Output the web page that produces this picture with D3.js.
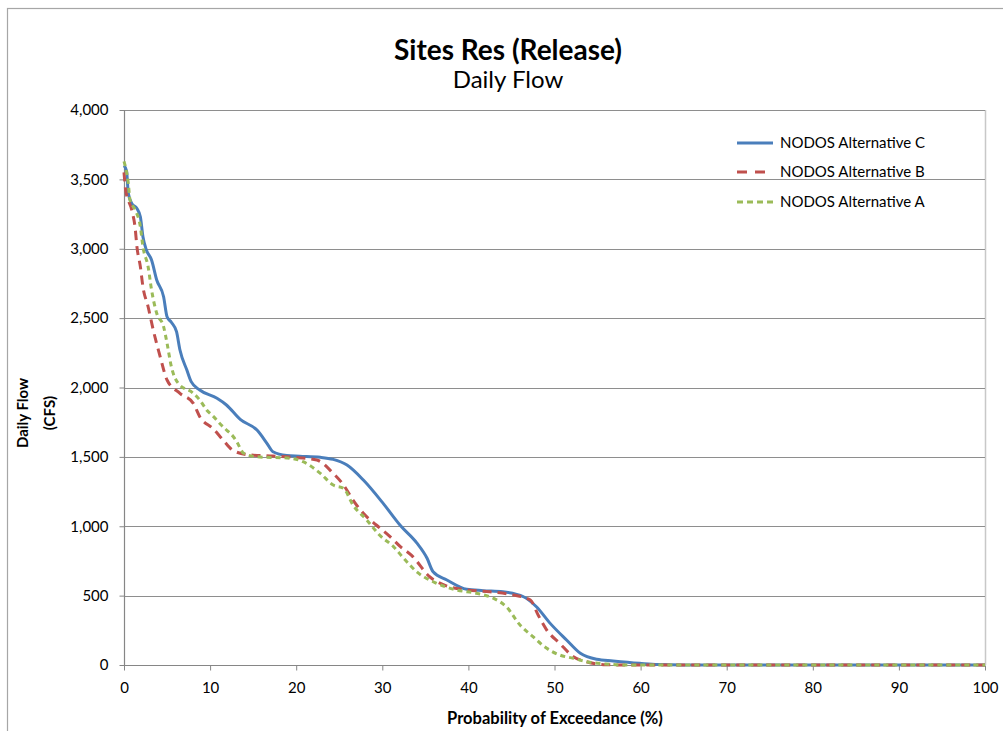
<!DOCTYPE html>
<html>
<head>
<meta charset="utf-8">
<script src="https://cdn.jsdelivr.net/npm/d3@7"></script>
<style>
  html, body { margin: 0; padding: 0; background: #fff; }
  svg { display: block; }
  text { font-family: Lato, "Open Sans", "Liberation Sans", sans-serif; fill: #000; }
</style>
</head>
<body>
<svg id="chart" width="1003" height="731"></svg>
<script>
// ---- Data ----
const xTicks = [0, 10, 20, 30, 40, 50, 60, 70, 80, 90, 100];
const yTicks = [0, 500, 1000, 1500, 2000, 2500, 3000, 3500, 4000];

const seriesNames = ["NODOS Alternative C", "NODOS Alternative B", "NODOS Alternative A"];

const altC_pct = [0,0.3,0.5,0.9,1.5,1.9,2.2,2.6,3.2,3.8,4.6,5.0,5.5,6.1,6.5,7.3,7.8,8.8,10.8,11.9,13.5,15.5,16.6,17.3,18.9,20.4,22.8,24.3,25.9,27.8,30.1,32.1,34.0,35.2,35.9,37.5,39.8,41.7,44.0,46.4,47.9,49.5,51.4,53.0,54.9,56.8,59.9,62,65,100];
const altC_flow = [3600,3560,3400,3327,3290,3231,3087,2991,2919,2775,2654,2510,2470,2402,2270,2126,2042,1982,1922,1874,1770,1690,1598,1537,1510,1505,1497,1482,1441,1333,1165,1005,880,769,672,613,546,536,528,492,420,300,180,84,41,29,12,3,0,0];

const altB_pct = [0,0.2,0.9,1.3,1.5,1.9,2.2,2.8,3.4,4.2,5.0,6.5,8.05,8.8,10.4,11.5,12.7,14.6,17.3,19.7,22.4,24.3,25.5,26.6,27.8,29.3,30.9,32.1,33.4,35.5,37.5,39.8,42.5,45.2,47.2,48.1,49.1,50.6,52.2,53.7,56,58,100];
const altB_flow = [3550,3420,3279,3147,3015,2871,2726,2582,2414,2222,2054,1958,1886,1790,1700,1622,1545,1514,1506,1497,1477,1381,1297,1189,1093,1009,925,853,790,636,569,541,528,505,468,360,252,156,60,24,2,0,0];

const altA_pct = [0,0.5,0.7,1.3,1.9,2.2,2.8,3.2,3.8,4.6,5.0,5.5,6.3,8.05,8.8,9.6,10.4,11.1,11.9,12.7,13.1,13.9,15.4,19.3,20.8,22.8,24.3,25.5,26.6,28.2,29.7,31.3,32.4,34.0,36.3,38.6,40.9,42.9,44.4,46.0,47.5,49.1,50.6,52.2,53.7,56,58,100];
const altA_flow = [3630,3471,3351,3279,3159,3015,2871,2703,2535,2438,2319,2150,2030,1958,1910,1838,1790,1742,1694,1645,1609,1526,1501,1490,1465,1381,1297,1273,1153,1045,935,853,775,672,589,541,517,481,420,288,204,120,72,48,24,7,0,0];

// ---- Layout ----
const svg = d3.select("#chart");
const plot = { left: 124, right: 985, top: 110, bottom: 665 };

const x = d3.scaleLinear().domain([0, 100]).range([plot.left, plot.right]);
const y = d3.scaleLinear().domain([0, 4000]).range([plot.bottom, plot.top]);

// outer chart frame (partially visible)
svg.append("rect")
  .attr("x", 7.5).attr("y", 8.5)
  .attr("width", 1100).attr("height", 800)
  .attr("fill", "none").attr("stroke", "#a6a6a6").attr("stroke-width", 1.2);

// right plot border
svg.append("line")
  .attr("x1", plot.right + 0.5).attr("x2", plot.right + 0.5)
  .attr("y1", plot.top).attr("y2", plot.bottom)
  .attr("stroke", "#c8c8c8").attr("stroke-width", 1.5);

// gridlines
svg.append("g").selectAll("line")
  .data(yTicks.filter(d => d > 0))
  .join("line")
  .attr("x1", plot.left).attr("x2", plot.right)
  .attr("y1", d => Math.round(y(d)) + 0.5).attr("y2", d => Math.round(y(d)) + 0.5)
  .attr("stroke", "#8e8e8e").attr("stroke-width", 1);

// axes
const fmt = d3.format(",");
const yAxis = d3.axisLeft(y).tickValues(yTicks).tickFormat(fmt).tickSize(5).tickPadding(11);
const xAxis = d3.axisBottom(x).tickValues(xTicks).tickFormat(d3.format("d")).tickSize(5).tickPadding(12);

const gy = svg.append("g").attr("transform", `translate(${plot.left + 0.5},0)`).call(yAxis);
const gx = svg.append("g").attr("transform", `translate(0,${plot.bottom + 0.5})`).call(xAxis);
[gx, gy].forEach(g => {
  g.select(".domain").attr("stroke", "#868686").attr("stroke-width", 1.2);
  g.selectAll(".tick line").attr("stroke", "#868686");
  g.selectAll(".tick text").style("font-size", "15px").style("font-family", "Lato, 'Open Sans', sans-serif").attr("fill", "#000");
});
gy.select(".domain").attr("d", `M0,${plot.bottom}V${plot.top}`);
gx.select(".domain").attr("d", `M${plot.left},0H${plot.right}`);

// ---- Lines ----
const series = [
  { name: seriesNames[0], pct: altC_pct, flow: altC_flow, color: "#4a7ebb", dash: null },
  { name: seriesNames[1], pct: altB_pct, flow: altB_flow, color: "#c0504d", dash: "9,6" },
  { name: seriesNames[2], pct: altA_pct, flow: altA_flow, color: "#9bbb59", dash: "5,4" }
];

const line = d3.line().x(d => x(d[0])).y(d => y(d[1])).curve(d3.curveMonotoneX);

svg.append("g").selectAll("path")
  .data(series)
  .join("path")
  .attr("d", s => line(s.pct.map((p, i) => [p, s.flow[i]])))
  .attr("fill", "none")
  .attr("stroke", s => s.color)
  .attr("stroke-width", 3)
  .attr("stroke-linejoin", "round")
  .attr("stroke-dasharray", s => s.dash);

// ---- Legend ----
const legendY = [143, 172, 202];
const lg = svg.append("g");
series.forEach((s, i) => {
  lg.append("line")
    .attr("x1", 737).attr("x2", 773)
    .attr("y1", legendY[i]).attr("y2", legendY[i])
    .attr("stroke", s.color).attr("stroke-width", 3)
    .attr("stroke-dasharray", i === 1 ? "10,8" : (i === 2 ? "6,4" : null));
  lg.append("text")
    .attr("x", 780).attr("y", legendY[i])
    .attr("dy", "0.35em")
    .style("font-size", "15px")
    .text(s.name);
});

// ---- Titles ----
svg.append("text")
  .attr("x", 508).attr("y", 60)
  .attr("text-anchor", "middle")
  .style("font-size", "28px").style("font-weight", "bold")
  .text("Sites Res (Release)");
svg.append("text")
  .attr("x", 508).attr("y", 88)
  .attr("text-anchor", "middle")
  .style("font-size", "24px")
  .text("Daily Flow");

// x axis title
svg.append("text")
  .attr("x", 555).attr("y", 724)
  .attr("text-anchor", "middle")
  .style("font-size", "16.5px").style("font-weight", "bold")
  .text("Probability of Exceedance (%)");

// y axis title (two lines)
const yt = svg.append("g").attr("transform", "translate(23,413) rotate(-90)");
yt.append("text").attr("x", 0).attr("y", 0).attr("text-anchor", "middle").attr("dy", "0.35em")
  .style("font-size", "15px").style("font-weight", "bold").text("Daily Flow");
yt.append("text").attr("x", 0).attr("y", 27).attr("text-anchor", "middle").attr("dy", "0.35em")
  .style("font-size", "15px").style("font-weight", "bold").text("(CFS)");
</script>
</body>
</html>
